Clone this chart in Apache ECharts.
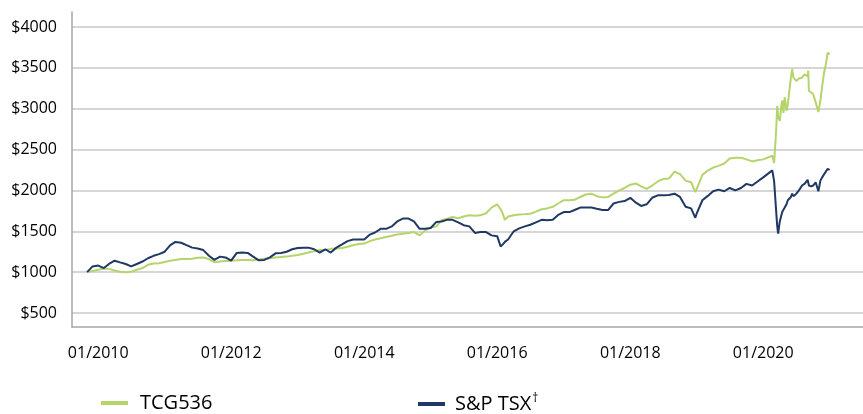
<!DOCTYPE html>
<html>
<head>
<meta charset="utf-8">
<script src="https://cdn.jsdelivr.net/npm/echarts@6/dist/echarts.min.js"></script>
<style>
html,body{margin:0;padding:0;background:#fff;}
#chart{width:863px;height:414px;}
</style>
</head>
<body>
<div id="chart"></div>
<script>
// ---- DATA ----
const seriesNames = ['TCG536', 'S&P TSX\u2020'];
const xTickDates = ['2010-01-01', '2012-01-01', '2014-01-01', '2016-01-01', '2018-01-01', '2020-01-01'];
const xTickLabels = ['01/2010', '01/2012', '01/2014', '01/2016', '01/2018', '01/2020'];
const yTickValues = [500, 1000, 1500, 2000, 2500, 3000, 3500, 4000];

const dates = [
'2009-11-01','2009-12-01',
'2010-01-01','2010-02-01','2010-03-01','2010-04-01','2010-05-01','2010-06-01','2010-07-01','2010-08-01','2010-09-01','2010-10-01','2010-11-01','2010-12-01',
'2011-01-01','2011-02-01','2011-03-01','2011-04-01','2011-05-01','2011-06-01','2011-07-01','2011-08-01','2011-09-01','2011-10-01','2011-11-01','2011-12-01',
'2012-01-01','2012-02-01','2012-03-01','2012-04-01','2012-05-01','2012-06-01','2012-07-01','2012-08-01','2012-09-01','2012-10-01','2012-11-01','2012-12-01',
'2013-01-01','2013-02-01','2013-03-01','2013-04-01','2013-05-01','2013-06-01','2013-07-01','2013-08-01','2013-09-01','2013-10-01','2013-11-01','2013-12-01',
'2014-01-01','2014-02-01','2014-03-01','2014-04-01','2014-05-01','2014-06-01','2014-07-01','2014-08-01','2014-09-01','2014-10-01','2014-11-01','2014-12-01',
'2015-01-01','2015-02-01','2015-03-01','2015-04-01','2015-05-01','2015-06-01','2015-07-01','2015-08-01','2015-09-01','2015-10-01','2015-11-01','2015-12-01',
'2016-01-01','2016-01-20','2016-02-01','2016-02-12','2016-03-01','2016-04-01','2016-05-01','2016-06-01','2016-07-01','2016-08-01','2016-09-01','2016-10-01','2016-11-01','2016-12-01',
'2017-01-01','2017-02-01','2017-03-01','2017-04-01','2017-05-01','2017-06-01','2017-07-01','2017-08-01','2017-09-01','2017-10-01','2017-11-01','2017-12-01',
'2018-01-01','2018-02-01','2018-03-01','2018-04-01','2018-05-01','2018-06-01','2018-07-01','2018-08-01','2018-09-01','2018-10-01','2018-11-01','2018-12-01','2018-12-24',
'2019-01-01','2019-02-01','2019-03-01','2019-04-01','2019-05-01','2019-06-01','2019-07-01','2019-08-01','2019-09-01','2019-10-01','2019-11-01','2019-12-01',
'2020-01-01','2020-02-20','2020-03-01','2020-03-12','2020-03-18','2020-03-23','2020-04-01','2020-04-10','2020-04-15','2020-04-21','2020-04-28',
'2020-05-01','2020-05-08','2020-05-15','2020-05-25','2020-06-01','2020-06-08','2020-06-15','2020-07-01','2020-07-15','2020-08-01','2020-08-15',
'2020-09-01','2020-09-04','2020-09-08','2020-09-20','2020-10-01','2020-10-15','2020-10-30','2020-11-10','2020-11-20','2020-12-01','2020-12-10','2020-12-20','2020-12-31'
];

const tcg536 = [
1000,1015,
1030,1045,1040,1020,1005,1000,1005,1030,1050,1090,1105,1110,
1125,1140,1150,1160,1160,1165,1175,1180,1160,1120,1130,1135,
1140,1145,1150,1150,1145,1155,1165,1170,1180,1185,1190,1200,
1210,1225,1240,1255,1270,1270,1285,1290,1295,1310,1330,1345,
1350,1380,1400,1415,1430,1445,1460,1470,1480,1490,1450,1510,
1545,1560,1635,1655,1675,1660,1680,1695,1690,1695,1720,1790,
1830,1770,1715,1640,1680,1695,1705,1710,1715,1740,1770,1780,1800,1840,
1880,1880,1885,1920,1950,1960,1930,1915,1920,1960,2000,2030,
2070,2085,2050,2020,2060,2110,2140,2145,2230,2200,2120,2100,1980,
2020,2190,2240,2280,2300,2330,2390,2400,2400,2380,2355,2370,
2380,2425,2335,2730,3035,2900,2850,3050,3100,2950,3140,
3100,2975,3050,3250,3380,3485,3380,3340,3370,3380,3420,
3400,3465,3220,3200,3180,3080,2960,3100,3280,3450,3545,3685,3665
];

const tsx = [
1000,1070,
1080,1050,1100,1140,1120,1100,1070,1100,1130,1170,1200,1220,
1250,1330,1370,1360,1330,1300,1290,1270,1200,1150,1190,1180,
1140,1235,1240,1235,1190,1145,1150,1180,1230,1235,1250,1280,
1295,1300,1300,1280,1240,1280,1240,1300,1340,1380,1400,1400,
1400,1460,1485,1530,1530,1560,1620,1655,1655,1620,1530,1530,
1540,1615,1620,1640,1640,1610,1575,1560,1480,1490,1490,1450,
1440,1315,1340,1370,1400,1500,1535,1560,1580,1610,1640,1635,1640,1700,
1735,1735,1760,1790,1790,1790,1775,1760,1760,1840,1860,1870,
1910,1850,1810,1830,1910,1940,1940,1945,1960,1920,1800,1780,1665,
1720,1880,1930,1990,2010,1990,2030,2000,2030,2080,2060,2110,
2160,2245,2110,1750,1560,1470,1620,1700,1740,1720,1790,
1800,1830,1880,1900,1920,1960,1930,1960,2000,2060,2080,
2130,2100,2060,2050,2060,2100,1990,2120,2160,2200,2230,2265,2250
];

// ---- CHART ----
const xMinDate = '2009-08-10';
const xMaxDate = '2021-07-02';
const font = '"Open Sans", sans-serif';
const toTs = s => { const p = s.split('-').map(Number); return Date.UTC(p[0], p[1]-1, p[2]); };
const tickTs = xTickDates.map(toTs);
const xMin = toTs(xMinDate), xMax = toTs(xMaxDate);

const chart = echarts.init(document.getElementById('chart'), null, {renderer: 'canvas'});
chart.setOption({
  animation: false,
  backgroundColor: '#ffffff',
  textStyle: {fontFamily: font},
  grid: [
    {left: 72, right: 0, top: 27, bottom: 101, containLabel: false},
    {left: 72, right: 0, top: 12, bottom: 87, containLabel: false}
  ],
  xAxis: [
    {type: 'value', gridIndex: 0, min: xMin, max: xMax, show: false, splitLine: {show: false}},
    {type: 'value', gridIndex: 1, min: xMin, max: xMax,
     axisLine: {show: true, lineStyle: {color: '#A6A6A6', width: 1.5}},
     axisTick: {show: false},
     splitLine: {show: false},
     axisLabel: {
       customValues: tickTs,
       margin: 18,
       fontSize: 16,
       color: '#000',
       fontFamily: font,
       showMinLabel: true,
       showMaxLabel: true,
       hideOverlap: false,
       interval: 0,
       formatter: function (v) {
         const y = new Date(v).getUTCFullYear();
         const i = xTickDates.indexOf(y + '-01-01');
         return i >= 0 ? xTickLabels[i] : '';
       }
     }
    }
  ],
  yAxis: [
    {type: 'value', gridIndex: 0, min: 500, max: 4000, interval: 500,
     axisLine: {show: false}, axisTick: {show: false},
     splitLine: {show: true, lineStyle: {color: '#C9C9C9', width: 1.5}},
     axisLabel: {margin: 15, fontSize: 16, color: '#000', fontFamily: font,
       formatter: v => '$' + v}
    },
    {type: 'value', gridIndex: 1, min: 0, max: 1,
     axisLine: {show: true, lineStyle: {color: '#A6A6A6', width: 1.5}},
     axisTick: {show: false}, axisLabel: {show: false}, splitLine: {show: false}
    }
  ],
  legend: [
    {left: 101, top: 393, padding: 0, itemWidth: 27, itemHeight: 4, icon: 'rect',
     data: [seriesNames[0]],
     textStyle: {fontSize: 20, color: '#000', fontFamily: font, padding: [0, 0, 0, 7]}},
    {left: 418, top: 393, padding: 0, itemWidth: 27, itemHeight: 4, icon: 'rect',
     data: [seriesNames[1]],
     formatter: function (name) { return '{a|S&P TSX}{b|\u2020}'; },
     textStyle: {fontSize: 20, color: '#000', fontFamily: font, padding: [0, 0, 0, 5],
       rich: {a: {fontSize: 20, color: '#000', fontFamily: font},
              b: {fontSize: 12, color: '#000', fontFamily: font, padding: [0, 0, 10, 1]}}}}
  ],
  series: [
    {name: seriesNames[0], type: 'line', xAxisIndex: 0, yAxisIndex: 0,
     data: dates.map((d, i) => [toTs(d), tcg536[i]]),
     showSymbol: false, symbol: 'none',
     lineStyle: {color: '#B5D46B', width: 2}, itemStyle: {color: '#B5D46B'}},
    {name: seriesNames[1], type: 'line', xAxisIndex: 0, yAxisIndex: 0,
     data: dates.map((d, i) => [toTs(d), tsx[i]]),
     showSymbol: false, symbol: 'none',
     lineStyle: {color: '#1F3864', width: 2}, itemStyle: {color: '#1F3864'}}
  ]
});
</script>
</body>
</html>
